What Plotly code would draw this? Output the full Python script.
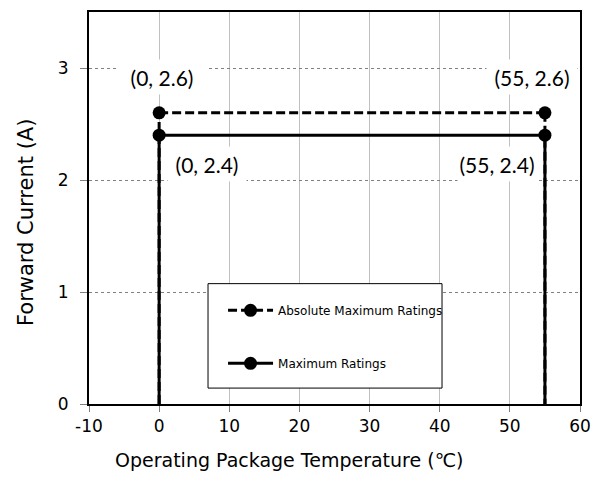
import plotly.graph_objects as go

# Operating area of the device: forward current vs package temperature
temp_min, temp_max = 0, 55
abs_max_current = 2.6
max_current = 2.4

series_names = ["Absolute Maximum Ratings", "Maximum Ratings"]
x_ticks = [-10, 0, 10, 20, 30, 40, 50, 60]
y_ticks = [0, 1, 2, 3]
x_title = "Operating Package Temperature (℃)"
y_title = "Forward Current (A)"

tick_font = dict(family="DejaVu Sans", size=17, color="#000000")
title_font = dict(family="DejaVu Sans", size=19, color="#000000")
label_font = dict(family="Lato", size=21, color="#000000")

fig = go.Figure()

# Absolute maximum ratings (dashed): vertical legs, then the top edge with markers
fig.add_trace(go.Scatter(
    x=[temp_min, temp_min, None, temp_max, temp_max],
    y=[0, abs_max_current, None, abs_max_current, 0],
    mode="lines", line=dict(color="black", width=3, dash="9px,4px"),
    showlegend=False, hoverinfo="skip", legendgroup="abs",
))
fig.add_trace(go.Scatter(
    x=[temp_min, temp_max], y=[abs_max_current, abs_max_current],
    mode="lines+markers", name=series_names[0], legendgroup="abs",
    line=dict(color="black", width=3, dash="9px,4px"),
    marker=dict(color="black", size=13, symbol="circle"),
))

# Maximum ratings (solid)
fig.add_trace(go.Scatter(
    x=[temp_min, temp_min, None, temp_max, temp_max],
    y=[0, max_current, None, max_current, 0],
    mode="lines", line=dict(color="black", width=3),
    showlegend=False, hoverinfo="skip", legendgroup="max",
))
fig.add_trace(go.Scatter(
    x=[temp_min, temp_max], y=[max_current, max_current],
    mode="lines+markers", name=series_names[1], legendgroup="max",
    line=dict(color="black", width=3),
    marker=dict(color="black", size=13, symbol="circle"),
))

# Data labels with white boxes over the grid
labels = [
    (temp_min, abs_max_current, 3, 36, 90),
    (temp_max, abs_max_current, -13, 36, 90),
    (temp_min, max_current, 48, -29, 78),
    (temp_max, max_current, -48, -29, 78),
]
for x, y, dx, dy, w in labels:
    fig.add_annotation(
        x=x, y=y, xref="x", yref="y", text=f"({x:g}, {y:g})",
        showarrow=False, xshift=dx, yshift=dy, borderpad=0,
        width=w, height=34, bgcolor="white", font=label_font,
    )

# Axis titles
fig.add_annotation(
    x=0.4073, y=-0.142, xref="paper", yref="paper", text=x_title,
    showarrow=False, font=title_font, xanchor="center", yanchor="middle",
)
fig.add_annotation(
    x=-0.128, y=0.462, xref="paper", yref="paper", text=y_title,
    showarrow=False, font=dict(family="DejaVu Sans", size=21, color="#000000"),
    textangle=-90, xanchor="center", yanchor="middle",
)

# Legend frame
fig.add_shape(
    type="rect", xref="paper", yref="paper",
    x0=0.2424, x1=0.719, y0=0.0406, y1=0.307,
    line=dict(color="black", width=1), fillcolor="white", layer="above",
)

fig.update_layout(
    width=612, height=482,
    margin=dict(l=89, r=32, t=10, b=78),
    paper_bgcolor="white", plot_bgcolor="white",
    font=dict(family="DejaVu Sans", color="black"),
    legend=dict(
        x=0.273, y=0.276, xanchor="left", yanchor="top",
        bgcolor="rgba(0,0,0,0)", borderwidth=0,
        font=dict(family="DejaVu Sans", size=12, color="black"),
        traceorder="grouped", tracegroupgap=34, itemwidth=45,
    ),
    xaxis=dict(
        range=[-10, 60], tickvals=x_ticks, ticktext=[str(v) for v in x_ticks],
        showgrid=True, gridcolor="#c0c0c0", gridwidth=1,
        zeroline=False, showline=True, linecolor="black", linewidth=2, mirror=True,
        ticks="outside", ticklen=6, tickcolor="#808080", tickwidth=1,
        tickfont=tick_font,
    ),
    yaxis=dict(
        range=[0, 3.5], tickvals=y_ticks, ticktext=[str(v) for v in y_ticks],
        showgrid=True, gridcolor="#808080", gridwidth=1, griddash="dot",
        zeroline=False, showline=True, linecolor="black", linewidth=2, mirror=True,
        ticks="outside", ticklen=7, tickcolor="#808080", tickwidth=1,
        tickfont=tick_font, ticklabelstandoff=8,
    ),
)

fig.write_html("out.html")
